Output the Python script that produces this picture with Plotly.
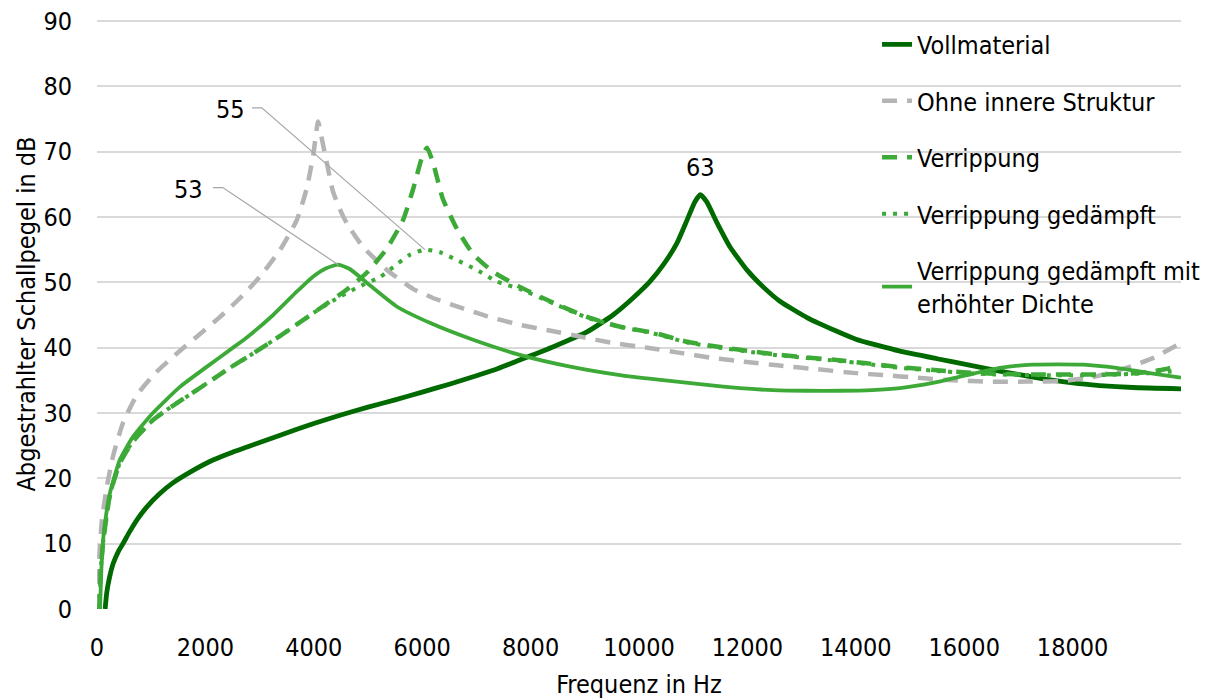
import plotly.graph_objects as go

# ---------------- data ----------------
voll_f = [150, 180, 230, 300, 400, 486, 600, 750, 917, 1150, 1400, 1750, 2140, 2500, 2770,
          3380, 4000, 4500, 5000, 5500, 6000, 6500, 7000, 7400, 7800, 8410, 9040, 9520, 9890,
          10200, 10450, 10700, 10890, 11030, 11130, 11250, 11440, 11680, 11990, 12290, 12600,
          13100, 13650, 14000, 14800, 15500, 16050, 16600, 17270, 18000, 18500, 19110, 20000]
voll_v = [0, 2.5, 4.8, 7, 8.9, 10.1, 11.8, 13.8, 15.6, 17.6, 19.3, 21.1, 22.8, 24, 24.8,
          26.6, 28.4, 29.7, 30.9, 32, 33.2, 34.4, 35.7, 36.8, 38.1, 40.1, 42.4, 45, 47.6,
          50.1, 52.7, 56, 59.6, 62.3, 63.4, 62.3, 59.1, 55.4, 51.9, 49.3, 47.1,
          44.6, 42.5, 41.3, 39.5, 38.3, 37.4, 36.5, 35.5, 34.6, 34.2, 33.9, 33.7]

ohne_f = [10, 25, 50, 90, 180, 300, 480, 740, 1100, 1500, 1900, 2270, 2640, 3000, 3380, 3690,
          3870, 3990, 4080, 4160, 4240, 4350, 4480, 4610, 4910, 5350, 5830, 6200, 6750, 7200,
          7800, 8300, 8910, 9520, 10150, 10760, 11370, 11990, 12550, 13280, 14000, 14500,
          15130, 15800, 16480, 17160, 17820, 18380, 18700, 19060, 19480, 19930]
ohne_v = [0, 5, 9, 13.5, 18.7, 23.5, 28.5, 32.8, 36.3, 39.3, 42.1, 44.7, 47.6, 50.8, 55, 59.6,
          64.4, 69.5, 74.6, 71.5, 68.3, 64, 61.2, 59, 55.4, 51.9, 49, 47.6, 46.0, 44.8,
          43.5, 42.7, 41.7, 40.7, 40, 39.2, 38.4, 37.8, 37.3, 36.7, 36.1, 35.8,
          35.4, 35, 34.8, 34.8, 34.9, 35.5, 36.2, 37.1, 38.4, 40.4]

rip_f = [45, 70, 117, 240, 420, 660, 1030, 1290, 1840, 2450, 2820, 3380, 3990, 4610, 4980,
         5350, 5650, 5830, 6010, 6090, 6200, 6380, 6640, 6940, 7310, 7800, 8410, 9040, 9650,
         10260, 10890, 11490, 12100, 12600, 13100, 13650, 14200, 14815, 15400, 16050, 16600,
         17270, 18500, 19000, 19420, 19700, 19930]
rip_v = [0, 6, 10.5, 17.5, 22.3, 25.6, 28.9, 30.5, 33.5, 36.9, 38.8, 41.8, 45.3, 48.9, 51.5,
         55.2, 59.6, 64.2, 69.5, 70.6, 68.3, 62.8, 58.2, 54.3, 51.6, 49.3, 46.9, 44.7, 43.2,
         42.3, 40.9, 40.1, 39.4, 38.9, 38.5, 38.1, 37.6, 37.0, 36.6, 36.2, 36.0,
         35.9, 35.9, 36.0, 36.3, 36.7, 37.2]

ripd_f = [45, 70, 117, 240, 420, 660, 1030, 1290, 1840, 2450, 2820, 3380, 3990, 4400, 4800,
          5220, 5460, 5770, 6050, 6330, 6640, 7010, 7380, 7800, 8410, 9040, 9650, 10260, 10890,
          11490, 12100, 12600, 13100, 13650, 14200, 14815, 15400, 16050, 16600, 17270, 18500,
          19420, 19930]
ripd_v = [0, 6, 10.5, 17.5, 22.3, 25.6, 28.9, 30.5, 33.5, 36.9, 38.8, 41.8, 45.3, 47.4, 49.2,
          50.8, 52.3, 54.2, 55.0, 54.6, 53.4, 51.9, 50.1, 49.0, 46.8, 44.6, 43.2, 42.2, 40.8,
          40.0, 39.3, 38.8, 38.4, 38.0, 37.5, 36.9, 36.5, 36.1, 35.9, 35.8, 35.8,
          36.1, 36.4]

dicht_f = [55, 80, 117, 170, 240, 420, 660, 1030, 1530, 2030, 2510, 2770, 3250, 3690, 3990,
           4240, 4450, 4670, 5040, 5530, 6140, 6940, 7800, 8730, 9650, 10570, 11250, 11860,
           12470, 13100, 13710, 14300, 14815, 15420, 16050, 16660, 17270, 18190, 18810, 19420,
           20000]
dicht_v = [0, 6, 11, 14.5, 17.8, 22.8, 26.3, 30, 34, 37.1, 40.0, 41.6, 45.0, 48.6, 50.9,
           52.2, 52.7, 52.0, 49.5, 46.3, 43.8, 41.2, 38.9, 37.1, 35.8, 34.9, 34.3, 33.8,
           33.5, 33.4, 33.4, 33.5, 33.8, 34.6, 35.8, 36.9, 37.4, 37.4, 36.9, 36.1,
           35.4]

names = ["Vollmaterial", "Ohne innere Struktur", "Verrippung", "Verrippung gedämpft",
         "Verrippung gedämpft mit<br>erhöhter Dichte"]
x_ticks = [0, 2000, 4000, 6000, 8000, 10000, 12000, 14000, 16000, 18000]
y_ticks = [0, 10, 20, 30, 40, 50, 60, 70, 80, 90]

# ---------------- styles ----------------
FONT = "DejaVu Sans Condensed, DejaVu Sans, sans-serif"
FS = 25
DARK = "#006A00"
LIGHT = "#3DAA38"
GRAY = "#B4B4B4"

series = [
    (voll_f, voll_v, dict(color=DARK, width=4.8)),
    (ohne_f, ohne_v, dict(color=GRAY, width=4.5, dash="15px,10px")),
    (rip_f, rip_v, dict(color=LIGHT, width=4.5, dash="15px,10px")),
    (ripd_f, ripd_v, dict(color=LIGHT, width=4, dash="4px,7px")),
    (dicht_f, dicht_v, dict(color=LIGHT, width=3.8)),
]

fig = go.Figure()
for i, (fx, fy, ln) in enumerate(series):
    fig.add_trace(go.Scatter(
        x=fx, y=fy, mode="lines", name=names[i], legendgroup=str(i),
        line=dict(shape="spline", smoothing=0.5, **ln),
    ))

# ---------------- annotations derived from series peaks ----------------
def peak(fx, fy):
    k = max(range(len(fy)), key=lambda j: fy[j])
    return fx[k], fy[k]

pv_f, pv_v = peak(voll_f, voll_v)
pd_f, pd_v = peak(ripd_f, ripd_v)
pl_f, pl_v = peak(dicht_f, dicht_v)

annos = [
    dict(x=pv_f, y=pv_v, text=f"{int(pv_v + 0.5)}", showarrow=False, yshift=27,
         xanchor="center", yanchor="middle"),
    dict(x=2470, y=76.4, text=f"{int(pd_v + 0.5)}", showarrow=False,
         xanchor="center", yanchor="middle"),
    dict(x=1680, y=64.2, text=f"{int(pl_v + 0.5)}", showarrow=False,
         xanchor="center", yanchor="middle"),
]
for a in annos:
    a["font"] = dict(family=FONT, size=FS, color="#000000")

shapes = [
    dict(type="path", xref="x", yref="y",
         path=f"M 2860,76.7 L 3040,76.7 L {pd_f},{pd_v}",
         line=dict(color="#A6A6A6", width=1.2), layer="above"),
    dict(type="path", xref="x", yref="y",
         path=f"M 2140,64.5 L 2320,64.5 L {pl_f},{pl_v}",
         line=dict(color="#A6A6A6", width=1.2), layer="above"),
    # white legend backdrop hiding gridlines behind legend
    dict(type="rect", xref="paper", yref="paper", x0=0.672, x1=1.0, y0=0.49, y1=0.99,
         fillcolor="white", line=dict(width=0), layer="between"),
]

# the page body adds an 8px offset, so margins are reduced accordingly
fig.update_layout(
    width=1219, height=699,
    margin=dict(l=89, r=46, t=11, b=98, autoexpand=False),
    paper_bgcolor="white", plot_bgcolor="white",
    font=dict(family=FONT, size=FS, color="#000000"),
    showlegend=True,
    legend=dict(x=0.7196, y=0.9956, xanchor="left", yanchor="top",
                bgcolor="rgba(0,0,0,0)", tracegroupgap=21,
                font=dict(family=FONT, size=FS, color="#000000")),
    annotations=annos,
    shapes=shapes,
    xaxis=dict(range=[0, 20000], tickvals=x_ticks, ticktext=[str(t) for t in x_ticks],
               showgrid=False, zeroline=False, showline=False, ticks="",
               ticklabelstandoff=21, automargin=False, ticklabeloverflow="allow",
               title=dict(text="Frequenz in Hz", standoff=14,
                          font=dict(family=FONT, size=FS, color="#000000"))),
    yaxis=dict(range=[0, 90.3], tickvals=y_ticks, ticktext=[str(t) for t in y_ticks],
               showgrid=True, gridcolor="#D9D9D9", gridwidth=1.5, zeroline=False,
               showline=False, ticks="", ticklabelstandoff=24, automargin=False,
               ticklabeloverflow="allow",
               title=dict(text="Abgestrahlter Schallpegel in dB", standoff=0,
                          font=dict(family=FONT, size=FS, color="#000000"))),
)

fig.write_html("out.html")
